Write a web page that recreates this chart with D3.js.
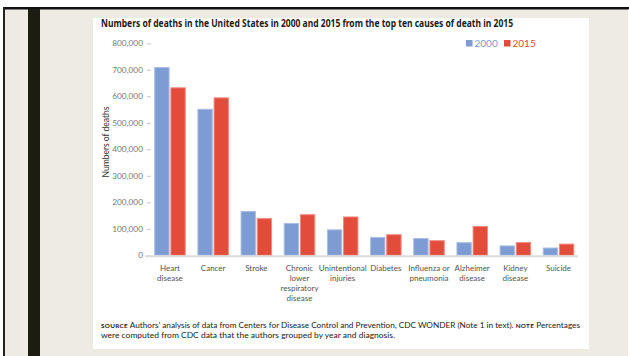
<!DOCTYPE html>
<html>
<head>
<meta charset="utf-8">
<script src="https://cdn.jsdelivr.net/npm/d3@7/dist/d3.min.js"></script>
<style>
  html, body { margin: 0; padding: 0; background: #fff; }
  svg { display: block; }
</style>
</head>
<body>
<svg id="chart" width="629" height="356"></svg>
<script>
// Causes of death (top ten in 2015) and death counts for each year
const causes = [
  ["Heart", "disease"],
  ["Cancer"],
  ["Stroke"],
  ["Chronic", "lower", "respiratory", "disease"],
  ["Unintentional", "injuries"],
  ["Diabetes"],
  ["Influenza or", "pneumonia"],
  ["Alzheimer", "disease"],
  ["Kidney", "disease"],
  ["Suicide"]
];
const deaths2000 = [710760, 553091, 167661, 122009, 97900, 69301, 65313, 49558, 37251, 29350];
const deaths2015 = [633842, 595930, 140323, 155041, 146571, 79535, 57062, 110561, 49959, 44193];
const years = ["2000", "2015"];
const yTicks = [0, 100000, 200000, 300000, 400000, 500000, 600000, 700000, 800000];

const colors = { "2000": "#7c9cd3", "2015": "#e34b3b" };
const edge = { "2000": "#a9bfe4", "2015": "#f08a7f" };
const font = "Lato, 'Open Sans', sans-serif";

const svg = d3.select("#chart");

// page frame
svg.append("rect").attr("x", 3).attr("y", 8).attr("width", 626).attr("height", 348).attr("fill", "#eeebe3");
svg.append("rect").attr("x", 3).attr("y", 7).attr("width", 626).attr("height", 2.5).attr("fill", "#111");
svg.append("rect").attr("x", 3).attr("y", 7).attr("width", 2).attr("height", 349).attr("fill", "#222");
svg.append("rect").attr("x", 628).attr("y", 9.5).attr("width", 1).attr("height", 347).attr("fill", "#fff");
svg.append("rect").attr("x", 28).attr("y", 9).attr("width", 12).attr("height", 347).attr("fill", "#1c1c10");
svg.append("rect").attr("x", 93).attr("y", 18).attr("width", 496).attr("height", 331).attr("fill", "#fff");

// title
svg.append("text")
  .attr("x", 101).attr("y", 27)
  .attr("font-family", "'Noto Sans', sans-serif")
  .attr("font-weight", "bold")
  .attr("font-size", 10)
  .attr("fill", "#1a1a1a")
  .attr("textLength", 412)
  .attr("lengthAdjust", "spacingAndGlyphs")
  .text("Numbers of deaths in the United States in 2000 and 2015 from the top ten causes of death in 2015");

// scales
const x0 = d3.scaleBand()
  .domain(d3.range(causes.length))
  .range([148.4, 580.1])
  .paddingInner(0.27)
  .paddingOuter(0.135);
const x1 = d3.scaleBand()
  .domain(years)
  .range([0, x0.bandwidth()])
  .paddingInner(0.05);
const y = d3.scaleLinear().domain([0, 800000]).range([255.3, 43.3]);

// y axis
const yAxis = d3.axisLeft(y)
  .tickValues(yTicks)
  .tickFormat(d3.format(","))
  .tickSize(4)
  .tickPadding(4);
const ya = svg.append("g").attr("transform", "translate(151,0)").call(yAxis);
ya.select(".domain").remove();
ya.selectAll(".tick line").attr("stroke", "#c8c8c8");
ya.selectAll(".tick text")
  .attr("font-family", font)
  .attr("font-size", 8.3)
  .attr("fill", "#7a7a7a");

svg.append("text")
  .attr("transform", "translate(108.5,142) rotate(-90)")
  .attr("text-anchor", "middle")
  .attr("font-family", font)
  .attr("font-size", 8.5)
  .attr("fill", "#333")
  .text("Numbers of deaths");

// bars
const rows = causes.map((c, i) => ({ i, values: [deaths2000[i], deaths2015[i]] }));
const groups = svg.append("g").selectAll("g").data(rows).join("g")
  .attr("transform", d => `translate(${x0(d.i)},0)`);
groups.selectAll("rect")
  .data(d => years.map((yr, k) => ({ yr, v: d.values[k] })))
  .join("rect")
  .attr("x", d => x1(d.yr) + 0.5)
  .attr("y", d => y(d.v) + 0.5)
  .attr("width", x1.bandwidth() - 1)
  .attr("height", d => y(0) - y(d.v) - 0.5)
  .attr("fill", d => colors[d.yr])
  .attr("stroke", d => edge[d.yr])
  .attr("stroke-width", 1);

// baseline
svg.append("line")
  .attr("x1", 145).attr("x2", 578)
  .attr("y1", y(0) + 1).attr("y2", y(0) + 1)
  .attr("stroke", "#dcdcdc").attr("stroke-width", 2);

// category labels
const lab = svg.append("g").selectAll("text").data(rows).join("text")
  .attr("x", d => x0(d.i) + x0.bandwidth() / 2)
  .attr("y", 271)
  .attr("text-anchor", "middle")
  .attr("font-family", font)
  .attr("font-size", 8)
  .attr("fill", "#555");
lab.selectAll("tspan").data(d => causes[d.i]).join("tspan")
  .attr("x", function () { return d3.select(this.parentNode).attr("x"); })
  .attr("dy", (d, k) => k === 0 ? 0 : 10)
  .text(d => d);

// legend
const legend = svg.append("g");
const legendX = { "2000": 466, "2015": 504 };
years.forEach(yr => {
  legend.append("rect")
    .attr("x", legendX[yr]).attr("y", 40)
    .attr("width", 6.5).attr("height", 6.5)
    .attr("fill", colors[yr]);
  legend.append("text")
    .attr("x", legendX[yr] + 8.5).attr("y", 47)
    .attr("font-family", font)
    .attr("font-size", 10)
    .attr("fill", colors[yr])
    .text(yr);
});

// source note
const note = svg.append("g")
  .attr("font-family", font)
  .attr("font-size", 7.8)
  .attr("fill", "#222");
const l1 = note.append("text").attr("x", 101).attr("y", 328)
  .attr("textLength", 479).attr("lengthAdjust", "spacingAndGlyphs");
l1.append("tspan").attr("font-weight", "bold").attr("font-size", 6).attr("letter-spacing", 0.3).text("SOURCE");
l1.append("tspan").text(" Authors’ analysis of data from Centers for Disease Control and Prevention, CDC WONDER (Note 1 in text). ");
l1.append("tspan").attr("font-weight", "bold").attr("font-size", 6).attr("letter-spacing", 0.3).text("NOTE");
l1.append("tspan").text(" Percentages");
note.append("text").attr("x", 101).attr("y", 337.5)
  .attr("textLength", 294).attr("lengthAdjust", "spacingAndGlyphs")
  .text("were computed from CDC data that the authors grouped by year and diagnosis.");
</script>
</body>
</html>
